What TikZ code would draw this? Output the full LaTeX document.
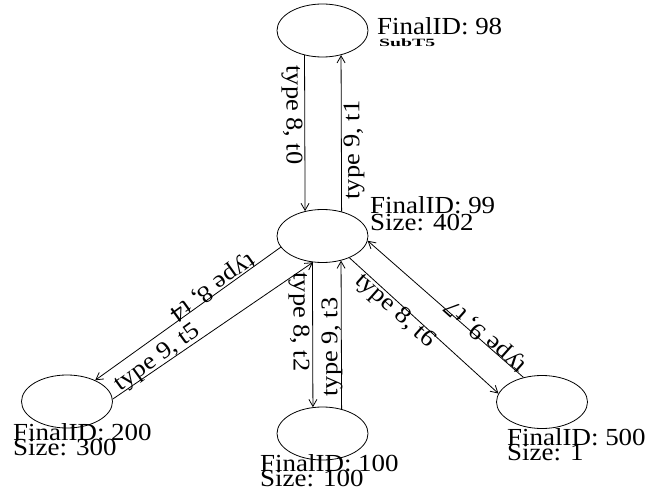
\documentclass[tikz,border=0pt]{standalone}
\usepackage{fontspec}
\setmainfont{Liberation Serif}[FakeStretch=1.1]
\usetikzlibrary{arrows.meta,shapes.geometric}
\begin{document}
\begin{tikzpicture}[x=1pt,y=-1pt,
  vtx/.style={ellipse,draw,line width=0.8pt,minimum width=91pt,minimum height=53pt,inner sep=0pt},
  lbl/.style={inner sep=0pt,font=\fontsize{24}{24}\selectfont},
  info/.style={inner sep=0pt,anchor=base west,font=\fontsize{24.5}{24}\selectfont},
  edge/.style={line width=0.8pt,-{Straight Barb[length=7pt,width=8pt]}}
]
\useasboundingbox (0,0) rectangle (663,494);
\node[vtx] (T) at (322.5,30.5) {};
\node[vtx] (C) at (322.5,236) {};
\node[vtx] (BL) at (67,401.5) {};
\node[vtx] (BM) at (322.5,433.5) {};
\node[vtx] (BR) at (542,402) {};

\draw[edge] (T.234.5) -- (C.125.5);
\draw[edge] (C.52.6) -- (T.307.4);
\draw[edge] (C.249.9) -- (BM.110.1);
\draw[edge] (BM.52.6) -- (C.307.4);
\draw[edge] (C.195.8) -- (BL.37.5);
\draw[edge] (BL.3) -- (C.250);
\draw[edge] (C.321.3) -- (BR.169.8);
\draw[edge] (BR.127.2) -- (C.354.2);

\node[lbl,rotate=-90] (l0) at (292,115) {type 8, t0};
\node[lbl,rotate=90] (l1) at (354,150) {type 9, t1};
\node[lbl,rotate=-90] (l2) at (299,322) {type 8, t2};
\node[lbl,rotate=90] (l3) at (332,347) {type 9, t3};
\node[lbl,rotate=215.5] (l4) at (212,287) {type 8, t4};
\node[lbl,rotate=35.8] (l5) at (158,358) {type 9, t5};
\node[lbl,rotate=-41.8] (l6) at (395,311) {type 8, t6};
\node[lbl,rotate=138.2] (l7) at (486,336) {type 9, t7};

\node[info] (iT) at (377,35) {FinalID: 98};
\node[inner sep=0pt,anchor=base west] (sT) at (379,47) {\resizebox{56pt}{7.7pt}{\fontsize{10}{10}\selectfont\bfseries SubT5}};
\node[info] (iC) at (370,214) {FinalID: 99};
\node[info] (sC) at (370,230) {Size: 402};
\node[info] (iBL) at (13,440) {FinalID: 200};
\node[info] (sBL) at (13,455) {Size: 300};
\node[info] (iBM) at (260,471) {FinalID: 100};
\node[info] (sBM) at (260,486) {Size: 100};
\node[info] (iBR) at (507,445) {FinalID: 500};
\node[info] (sBR) at (507,460) {Size: 1};
\end{tikzpicture}
\end{document}
